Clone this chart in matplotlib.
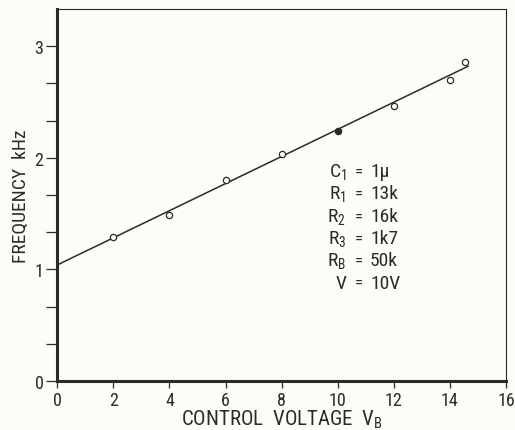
import numpy as np
import matplotlib
matplotlib.use("Agg")
import matplotlib.pyplot as plt

plt.rcParams['font.family'] = ['Roboto Condensed', 'DejaVu Sans']
plt.rcParams['font.stretch'] = 'condensed'
plt.rcParams['mathtext.fontset'] = 'custom'
plt.rcParams['mathtext.rm'] = 'Roboto Condensed'
plt.rcParams['mathtext.it'] = 'Roboto Condensed'

# measured points
volts = [2, 4, 6, 8, 10, 12, 14, 14.55]
freq = [1.29, 1.49, 1.80, 2.03, 2.24, 2.46, 2.70, 2.86]
filled = [False, False, False, False, True, False, False, False]

# straight line drawn through the points
fit_x = [0, 14.65]
fit_y = [1.04, 2.82]

# component values shown on the chart
names = ['C$_1$', 'R$_1$', 'R$_2$', 'R$_3$', 'R$_B$', 'V']
values = ['1µ', '13k', '16k', '1k7', '50k', '10V']

ink = '#2b2b24'

fig = plt.figure(figsize=(5.15, 4.31), dpi=100, facecolor='#fcfcf9')
ax = fig.add_axes([0.1113, 0.1137, 0.8712, 0.8631])
ax.set_facecolor('#fcfcf9')

ax.plot(fit_x, fit_y, color=ink, lw=1.1)
for x, y, f in zip(volts, freq, filled):
    ax.plot(x, y, 'o', ms=4.5, mew=0.9, mec=ink,
            mfc=ink if f else '#fcfcf9', zorder=3)

# parameter list
y0 = 1.88
for i, (n, v) in enumerate(zip(names, values)):
    yy = y0 - i * 0.2
    ax.text(10.3, yy, n, ha='right', va='center', fontsize=14, color=ink)
    ax.text(10.75, yy, '=', ha='center', va='center', fontsize=12, color=ink)
    ax.text(11.15, yy, v, ha='left', va='center', fontsize=14, color=ink)

ax.set_xlim(0, 16)
ax.set_ylim(0, 3.333)
ax.set_xticks(np.arange(0, 17, 2))
ax.set_yticks([0, 1, 2, 3])
ax.set_yticks(np.arange(0, 3.3, 1 / 3), minor=True)

ax.spines['left'].set_linewidth(2.2)
ax.spines['bottom'].set_linewidth(2.2)
ax.spines['top'].set_linewidth(0.8)
ax.spines['right'].set_linewidth(0.8)
for s in ax.spines.values():
    s.set_color(ink)

ax.tick_params(axis='y', which='both', direction='out', length=8, width=0.9,
               color=ink, labelsize=13, labelcolor=ink, pad=2)
ax.tick_params(axis='x', direction='out', length=5, width=0.9,
               color=ink, labelsize=13, labelcolor=ink, pad=2)

ax.set_xlabel('CONTROL  VOLTAGE  V$_B$', fontsize=15, color=ink, labelpad=-1)
ax.set_ylabel('FREQUENCY  kHz', fontsize=14, color=ink, labelpad=3)

fig.savefig('out.png', dpi=100, facecolor=fig.get_facecolor())
